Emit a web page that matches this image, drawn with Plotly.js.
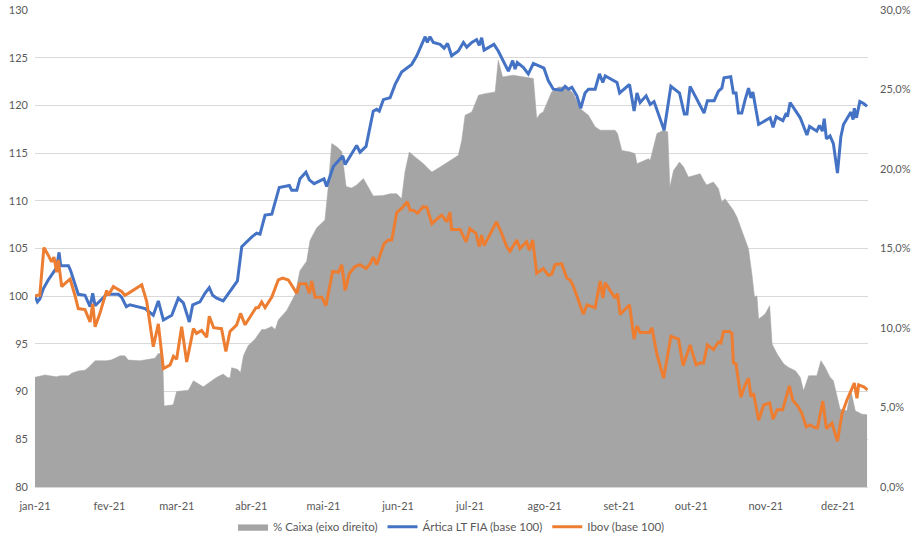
<!DOCTYPE html>
<html>
<head>
<meta charset="utf-8">
<script src="https://cdn.plot.ly/plotly-3.0.1.min.js"></script>
<style>
  html, body { margin: 0; padding: 0; background: #ffffff; }
  #chart { width: 918px; height: 543px; }
</style>
</head>
<body>
<div id="chart"></div>
<script>
// x values are day-of-year 2021 (0 = 1 Jan)
const monthTickDays = [0, 31, 59, 90, 120, 151, 181, 212, 243, 273, 304, 334];
const monthTickLabels = ["jan-21", "fev-21", "mar-21", "abr-21", "mai-21", "jun-21", "jul-21", "ago-21", "set-21", "out-21", "nov-21", "dez-21"];

// % Caixa (eixo direito), in percent
const caixaDays = [0, 4.2, 6.2, 9, 10.4, 13.9, 15.3, 18, 20.8, 22.2, 25, 29.8, 31.9, 35.4, 37.4, 38.8, 43.7, 46.5, 49.9, 51.3, 53.1, 53.7, 57.5, 58.9, 63.8, 65.9, 67.9, 70, 72.5, 75.6, 78.3, 79.9, 81.1, 81.8, 84.2, 85.5, 86.7, 88.7, 91.5, 94.3, 95.7, 98.5, 99.9, 101.2, 104.7, 108.2, 110.2, 113, 114.4, 117.2, 120.6, 122, 123.4, 125.5, 127.6, 129.4, 131.7, 133.8, 136.6, 138.7, 140.7, 144.9, 147.7, 150.5, 152.5, 153.9, 155.7, 158.1, 161.6, 163.6, 165.1, 168.5, 172.6, 176.1, 177.5, 178.9, 181.7, 184.5, 187.2, 191.4, 192.7, 194.5, 199, 204.5, 207.3, 208.7, 210.1, 211.4, 212.9, 214.9, 217.7, 221.2, 224, 226.7, 230.2, 233, 235.1, 241.3, 242.3, 244.1, 247.6, 249.6, 250.4, 255.2, 255.9, 257.3, 258.7, 261.5, 263.2, 264.1, 265.6, 268.1, 269.8, 271.8, 274.6, 276.7, 278.1, 279.4, 282.2, 284.3, 285.7, 287, 290.5, 292, 293, 294, 296.8, 298.2, 299.3, 300.3, 301, 303.7, 305.6, 306.6, 308.7, 311.5, 313.5, 316.3, 318.3, 319.7, 321.8, 325.2, 326.9, 328.7, 330.7, 332.1, 334.9, 337.7, 339.4, 341.2, 344, 346.1];
const caixaPct = [6.9, 7.05, 6.99, 6.93, 6.99, 6.99, 7.16, 7.3, 7.35, 7.52, 7.94, 7.94, 8.0, 8.25, 8.25, 7.98, 7.94, 8.0, 8.1, 8.4, 8.35, 5.1, 5.17, 6.0, 6.09, 6.68, 6.5, 6.3, 6.57, 6.9, 7.1, 6.9, 6.85, 7.5, 7.4, 7.2, 8.25, 8.9, 9.3, 9.9, 9.9, 10.1, 9.9, 10.5, 11.1, 12.1, 13.6, 14.2, 15.5, 16.3, 16.8, 18.9, 21.6, 21.4, 21.1, 18.9, 18.8, 19.0, 19.4, 18.8, 18.3, 18.33, 18.44, 18.44, 18.13, 19.81, 21.07, 20.75, 20.33, 20.02, 19.81, 20.12, 20.54, 20.86, 21.8, 23.38, 23.59, 24.64, 24.74, 24.85, 26.84, 25.79, 25.9, 25.79, 25.69, 23.17, 23.48, 23.59, 24.11, 24.85, 25.16, 25.16, 24.74, 23.8, 23.38, 22.65, 22.44, 22.44, 22.23, 21.17, 21.07, 20.96, 20.33, 20.65, 20.54, 21.49, 22.23, 22.44, 22.33, 18.86, 19.91, 20.44, 20.12, 19.49, 19.6, 19.7, 19.3, 19.0, 19.18, 18.76, 17.92, 18.13, 17.4, 16.97, 16.55, 16.13, 14.97, 13.4, 11.93, 12.03, 10.56, 10.88, 11.4, 8.99, 8.36, 7.73, 7.52, 7.31, 6.9, 6.05, 7.0, 7.0, 7.94, 7.52, 6.9, 6.68, 4.89, 4.79, 6.05, 4.79, 4.58, 4.54];

// Ártica LT FIA (base 100)
const articaDays = [0, 1, 2, 3.5, 5.5, 7.6, 9, 10, 10.7, 11.8, 13.9, 14.8, 16.6, 18, 20.8, 22.2, 22.9, 24, 25, 27, 29.8, 34.7, 36, 38, 39.5, 45.8, 49.2, 51.3, 53.4, 56.9, 59.6, 61.7, 64.2, 65.6, 68.6, 70.7, 72.5, 73.9, 75.6, 78.3, 80.4, 82.5, 84.2, 86, 88, 90.1, 92.2, 93.6, 95.7, 98.5, 101.6, 103.3, 105.8, 106.8, 108.9, 110.2, 112.7, 114.1, 116.1, 120.2, 121.3, 124.1, 128, 129, 131.7, 133.8, 135.2, 137.7, 140.7, 142.1, 143.2, 144.9, 147.7, 149.8, 152.5, 155.3, 156.7, 158.8, 160.2, 162.3, 163.2, 164.3, 165.7, 168.5, 170.2, 171.6, 173.3, 176.1, 178.2, 179.6, 181.7, 183.7, 184.8, 185.8, 186.8, 190.9, 192.7, 196.9, 198.7, 199.7, 200.6, 203.1, 205.2, 207.3, 210.1, 211.7, 213.5, 215.6, 219.1, 220.5, 221.9, 223.3, 225.4, 227, 228.8, 230.2, 233, 234.8, 236.2, 237.2, 242.1, 243.2, 247.3, 249.2, 250.4, 251.7, 254.2, 255.9, 257.5, 261.7, 264.5, 268.1, 270.1, 271.2, 272.5, 275.3, 278.3, 279.7, 282.5, 284.3, 285.7, 286.6, 289.4, 290.5, 291.6, 292.6, 294, 295.4, 296.8, 297.8, 298.6, 301, 305.8, 307, 308.3, 311.1, 312.5, 313, 314.1, 318.3, 321.1, 322.2, 325.2, 326.3, 327.5, 328.3, 329.2, 330.7, 332.1, 333.8, 335.2, 336.3, 338.4, 339.4, 340.3, 340.8, 341.7, 343.1, 344.7, 346.1];
const articaVals = [100, 99.4, 99.7, 100.8, 101.7, 102.5, 103, 104.6, 103.2, 103.2, 103.2, 102.7, 101.2, 100.2, 100.1, 99.2, 98.9, 100.3, 99, 99.5, 100.2, 100.2, 99.9, 98.9, 99.1, 98.7, 98, 99.5, 97.5, 98, 99.8, 99.3, 97.3, 99.1, 99.4, 100.3, 100.9, 100.1, 99.8, 99.5, 100.2, 101, 101.6, 105.2, 105.7, 106.2, 106.6, 106.5, 108.5, 108.6, 111.4, 111.5, 111.6, 111.1, 111.1, 112.3, 113, 112.2, 111.8, 112.3, 111.5, 113.6, 114.7, 113.8, 115, 115.8, 115.1, 115.7, 119.4, 119.6, 119.4, 120.6, 120.8, 122.2, 123.5, 124.1, 124.3, 125.2, 126, 127.2, 126.6, 127.2, 126.6, 126.4, 126, 126.5, 125.2, 125.7, 126.6, 126.1, 126.6, 126.9, 126.3, 127.1, 125.8, 126.4, 125.7, 123.6, 124.7, 123.8, 124.5, 124, 123.3, 124.4, 124.1, 123.9, 122.6, 121.7, 121.6, 122, 121.7, 121.9, 121, 119.7, 121.3, 121.7, 121.7, 123.3, 122.4, 123.1, 122.4, 121.3, 122.2, 119.4, 121.3, 120.3, 121, 120.1, 120.4, 117.4, 122, 121.3, 119.1, 119.1, 122, 120.6, 119.2, 120.5, 120.5, 121.5, 121.8, 122.9, 123, 121.3, 121.3, 119.2, 119.2, 120.6, 121.8, 120.8, 121.4, 118, 118.7, 117.7, 118.8, 118.4, 119.2, 118.8, 120.3, 118.7, 116.9, 117.8, 117.3, 117.9, 117.3, 118.6, 116.5, 116.8, 116, 112.9, 116.7, 118, 118.8, 119.3, 118.5, 119.7, 118.7, 120.4, 120.2, 119.9];

// Ibov (base 100)
const ibovDays = [0, 1, 2, 3.7, 5.5, 6.9, 7.9, 9, 9.7, 11.1, 13.2, 14.6, 16.6, 18, 20.8, 22.9, 24, 25, 27, 29.8, 30.5, 32.6, 36, 37.4, 38.8, 44.4, 46.5, 49.2, 51.3, 53.4, 56.2, 57.6, 58.9, 61, 63.1, 65.9, 67.2, 69.3, 71.4, 72.5, 74.3, 77.6, 79.4, 81.1, 83.9, 85.5, 87.4, 89.4, 91.9, 92.9, 94.3, 95.7, 98.5, 101.2, 103, 105.4, 107.5, 108.9, 110, 112.7, 114.1, 115.1, 116.5, 119.3, 121, 122, 123.8, 126.2, 127.6, 129, 130.8, 133.1, 135.2, 137.7, 139.4, 140.7, 142.1, 145.2, 147, 148.4, 150.5, 152.5, 154.9, 156, 157.4, 159.1, 161.6, 163, 165.1, 167.2, 169.2, 171.3, 172.6, 173.3, 176.8, 179.3, 180.9, 183.4, 184.8, 185.8, 186.8, 192, 194.1, 196.2, 197.6, 200.4, 201.7, 204.5, 205.6, 207, 208.7, 211.4, 213.5, 214.9, 216.3, 219.1, 221.2, 222.6, 224, 228.1, 229.6, 233, 235.1, 236.2, 237.2, 240, 241.3, 242.3, 243.4, 247.3, 249.2, 250.4, 251.7, 255.6, 256.6, 258.7, 261.5, 264.5, 267.7, 269.6, 272.5, 275, 276.7, 278.1, 279.7, 282.2, 284.3, 285.3, 286.4, 288.9, 289.9, 290.5, 291.6, 293.6, 295.4, 296.8, 297.8, 298.9, 301, 303.1, 305.6, 307, 308.7, 311, 313.8, 315.2, 317.5, 319, 320.8, 322.4, 324.5, 325.5, 327.7, 329.2, 331.5, 333.8, 335.7, 337.7, 340.8, 341.9, 342.6, 344.7, 346.3];
const ibovVals = [100, 100.1, 100.1, 105.1, 104.3, 103.6, 104.1, 102.5, 103.8, 101, 101.5, 101.8, 100.1, 98.7, 98.6, 97.3, 99.2, 96.8, 98.2, 100.6, 100.1, 101, 100.5, 100.1, 100.3, 101.2, 99.4, 94.7, 97.1, 92.4, 92.8, 93.7, 93.4, 96.8, 93.1, 96.6, 96.1, 96.4, 95.7, 97.9, 96.7, 96.6, 94.2, 96.3, 97, 98.2, 97, 97.8, 98.8, 98.8, 99.4, 98.8, 99.9, 101.7, 101.9, 101.7, 100.8, 100.3, 101.3, 101.3, 100.3, 101.6, 99.9, 99.9, 99, 100.3, 102.6, 102.5, 103.3, 100.6, 102.4, 103.1, 103.3, 102.9, 103.4, 104.1, 103.3, 105.5, 105.9, 105.9, 108.8, 109.2, 109.9, 109, 109, 108.7, 109.4, 109.3, 107.6, 108.1, 108.5, 107.8, 108.8, 107, 107, 105.7, 107.1, 106.6, 105.2, 106.4, 105.3, 107.8, 106.6, 105.2, 104.7, 105.9, 105, 105.7, 104.8, 105.9, 102.4, 102.9, 102.2, 102.3, 103.3, 103.4, 101.9, 101.7, 101, 98.1, 99.1, 98.8, 101.6, 99.8, 101.4, 100.3, 99.8, 100.3, 98.1, 99.1, 95.5, 96.9, 96.2, 96.2, 96.7, 93.9, 91.4, 95.8, 95.5, 92.7, 94.9, 92.8, 93, 93, 94.9, 94.4, 95.2, 95.1, 96.3, 96.3, 96.1, 93, 92.9, 89.4, 90.7, 91.4, 89.5, 89.8, 87, 88.6, 88.8, 87.1, 88.1, 88.1, 90.6, 89.1, 88.4, 87.7, 86.3, 86.5, 86.2, 86.2, 89, 86.1, 86.7, 84.8, 87.7, 89.1, 90.9, 89.3, 90.7, 90.5, 90.2];

const textColor = '#595959';
const fontFamily = 'Lato, "Open Sans", "Liberation Sans", sans-serif';

const traces = [
  {
    name: '% Caixa (eixo direito)',
    x: caixaDays, y: caixaPct,
    type: 'scatter', mode: 'lines',
    fill: 'tozeroy', fillcolor: '#a5a5a5',
    line: { color: '#a5a5a5', width: 0.5 },
    xaxis: 'x', yaxis: 'y',
    hoverinfo: 'skip'
  },
  {
    name: 'Ártica LT FIA (base 100)',
    x: articaDays, y: articaVals,
    type: 'scatter', mode: 'lines',
    line: { color: '#4472c4', width: 3 },
    xaxis: 'x', yaxis: 'y2'
  },
  {
    name: 'Ibov (base 100)',
    x: ibovDays, y: ibovVals,
    type: 'scatter', mode: 'lines',
    line: { color: '#ed7d31', width: 3 },
    xaxis: 'x', yaxis: 'y2'
  }
];

const layout = {
  width: 918, height: 543,
  margin: { l: 35, r: 50, t: 10, b: 56 },
  paper_bgcolor: '#ffffff', plot_bgcolor: '#ffffff',
  separators: ',.',
  font: { family: fontFamily, size: 11, color: textColor },
  showlegend: true,
  legend: {
    orientation: 'h', x: 0.5, xanchor: 'center',
    xref: 'paper', yref: 'container', y: 0.03, yanchor: 'middle',
    font: { family: fontFamily, size: 11.5, color: textColor },
    traceorder: 'normal', itemwidth: 30
  },
  xaxis: {
    range: [0, 346.5],
    tickmode: 'array', tickvals: monthTickDays, ticktext: monthTickLabels,
    showgrid: false, zeroline: false,
    showline: true, linecolor: '#d9d9d9', linewidth: 1,
    ticks: '', ticklabelstandoff: 9,
    tickfont: { family: fontFamily, size: 11, color: textColor }
  },
  yaxis: {
    range: [0, 30], side: 'right',
    tickmode: 'linear', tick0: 0, dtick: 5,
    tickformat: '.1f', ticksuffix: '%',
    showgrid: false, zeroline: false, showline: false,
    ticks: '', ticklabelstandoff: 11,
    tickfont: { family: fontFamily, size: 11, color: textColor }
  },
  yaxis2: {
    range: [80, 130], side: 'left', overlaying: 'y',
    tickmode: 'linear', tick0: 80, dtick: 5,
    showgrid: true, gridcolor: '#d9d9d9', gridwidth: 1,
    zeroline: false, showline: false,
    ticks: '', ticklabelstandoff: 6,
    tickfont: { family: fontFamily, size: 11, color: textColor }
  }
};

Plotly.newPlot('chart', traces, layout, { displayModeBar: false, staticPlot: true });
</script>
</body>
</html>
